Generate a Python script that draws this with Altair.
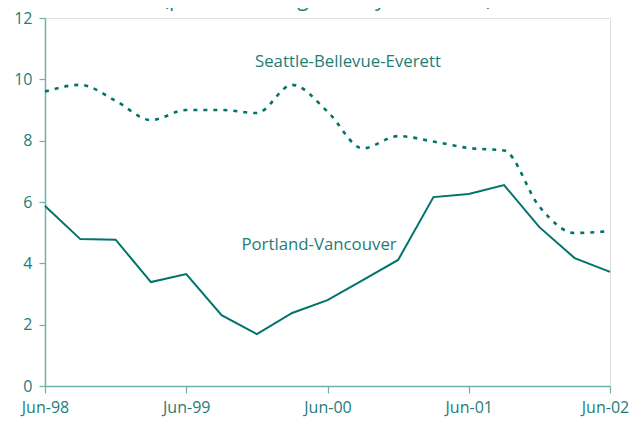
import altair as alt
import pandas as pd

quarters = ["Jun-98", "Sep-98", "Dec-98", "Mar-99", "Jun-99", "Sep-99", "Dec-99", "Mar-00",
            "Jun-00", "Sep-00", "Dec-00", "Mar-01", "Jun-01", "Sep-01", "Dec-01", "Mar-02", "Jun-02"]
seattle = [9.6, 9.82, 9.3, 8.67, 9.0, 9.0, 8.9, 9.82, 8.95, 7.75, 8.15, 7.97, 7.76, 7.68, 5.85, 4.99, 5.05]
portland = [5.87, 4.79, 4.77, 3.39, 3.65, 2.31, 1.69, 2.38, 2.8, 3.45, 4.11, 6.16, 6.26, 6.55, 5.18, 4.17, 3.72]

label_names = ["Seattle-Bellevue-Everett", "Portland-Vancouver"]
label_idx = [8.58, 7.76]
label_val = [10.56, 4.6]

tick_idx = [0, 4, 8, 12, 16]

LINE = "#00746B"
TEXT = "#1F7D76"
AXIS = "#72B0AB"
FONT = "Open Sans"

df_s = pd.DataFrame({"i": list(range(len(quarters))), "q": quarters, "v": seattle})
df_p = pd.DataFrame({"i": list(range(len(quarters))), "q": quarters, "v": portland})
df_l = pd.DataFrame({"i": label_idx, "v": label_val, "t": label_names})

label_expr = "{" + ",".join(f"'{k}':'{quarters[k]}'" for k in tick_idx) + "}[datum.value]"

x = alt.X("i:Q", scale=alt.Scale(domain=[0, 16], nice=False, zero=False),
          axis=alt.Axis(values=tick_idx, labelExpr=label_expr, title=None, grid=False,
                        tickSize=7, labelPadding=6, labelFontSize=16, labelColor=TEXT,
                        labelFont=FONT, domainColor=AXIS, tickColor=AXIS, domainWidth=1.5,
                        tickWidth=1.2, labelFlush=False,
                        labelOffset={"condition": {"test": "datum.value == 16", "value": -5},
                                     "value": 0}))
y = alt.Y("v:Q", scale=alt.Scale(domain=[0, 12], nice=False),
          axis=alt.Axis(values=[0, 2, 4, 6, 8, 10, 12], title=None, grid=False,
                        tickSize=6, labelPadding=7, labelFontSize=16, labelColor=TEXT,
                        labelFont=FONT, domainColor=AXIS, tickColor=AXIS, domainWidth=1.5,
                        tickWidth=1.2))

s_line = alt.Chart(df_s).mark_line(color=LINE, strokeWidth=2.6, strokeDash=[4, 6],
                                   interpolate="monotone").encode(x=x, y=y)
p_line = alt.Chart(df_p).mark_line(color=LINE, strokeWidth=2).encode(x=x, y=y)
labels = alt.Chart(df_l).mark_text(color=TEXT, font=FONT, fontSize=16.8, align="center",
                                   baseline="middle").encode(x=x, y=y, text="t:N")

chart = alt.layer(s_line, p_line, labels).properties(
    width=565, height=368,
    autosize=alt.AutoSizeParams(type="none"),
    padding={"left": 37, "top": 10, "right": 21, "bottom": 31},
    title=alt.TitleParams("(percent change over year earlier)", anchor="middle",
                          fontSize=21, font=FONT, fontWeight="normal", color=TEXT, offset=0),
).configure_view(stroke=None).configure(background="white")

chart.save("out.html", embed_options={"renderer": "svg", "actions": False})
